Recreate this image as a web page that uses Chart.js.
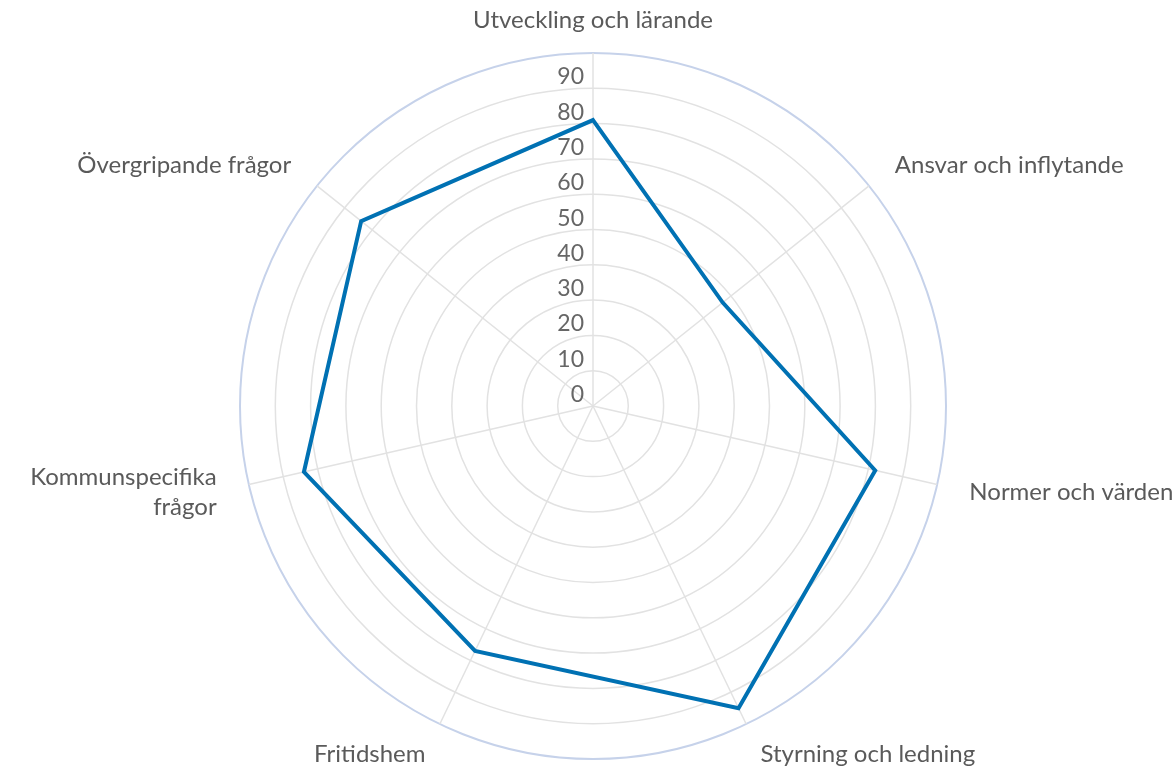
<!DOCTYPE html>
<html lang="sv">
  <head>
    <meta charset="UTF-8" />
    <script src="https://cdn.jsdelivr.net/npm/chart.js@4.4.1/dist/chart.umd.min.js"></script>
    <style>
      html, body { margin: 0; padding: 0; background: #fff; }
      #wrap { width: 1175px; height: 768px; }
    </style>
    <title>Radar</title>
  </head>
  <body>
    <div id="wrap"><canvas id="radar"></canvas></div>

    <script>
      // categories and values
      const categories = [
        'Utveckling och lärande',
        'Ansvar och inflytande',
        'Normer och värden',
        'Styrning och ledning',
        'Fritidshem',
        ['Kommunspecifika', 'frågor'],
        'Övergripande frågor'
      ];
      const values = [81, 47, 82, 95, 77, 84, 84];
      const tickLabels = [0, 10, 20, 30, 40, 50, 60, 70, 80, 90];

      const fontFamily = 'Lato, "Open Sans", sans-serif';

      // tick numbers sit just above each ring, left of the top spoke,
      // category names are centred on their spoke just outside the outer ring
      const labelPlugin = {
        id: 'radarLabels',
        afterDraw(chart) {
          const scale = chart.scales.r;
          const ctx = chart.ctx;
          ctx.save();

          ctx.font = '23px ' + fontFamily;
          ctx.fillStyle = '#666';
          ctx.textAlign = 'right';
          ctx.textBaseline = 'alphabetic';
          tickLabels.forEach(function (v) {
            const p = scale.getPointPositionForValue(0, v);
            ctx.fillText(String(v), p.x - 9, p.y - 4);
          });

          ctx.font = '24px ' + fontFamily;
          ctx.fillStyle = '#5a5a5a';
          ctx.textBaseline = 'middle';
          const lineH = 30;
          categories.forEach(function (label, i) {
            const p = scale.getPointPosition(i, scale.drawingArea + 33);
            const deg = Math.round(scale.getIndexAngle(i) * 180 / Math.PI) % 360;
            ctx.textAlign = deg === 0 || deg === 180 ? 'center' : (deg < 180 ? 'left' : 'right');
            const lines = Array.isArray(label) ? label : [label];
            const y0 = p.y - (lines.length - 1) * lineH / 2;
            lines.forEach(function (t, k) {
              ctx.fillText(t, p.x, y0 + k * lineH);
            });
          });
          ctx.restore();
        }
      };

      const ctx = document.getElementById('radar').getContext('2d');
      const chart = new Chart(ctx, {
        type: 'radar',
        data: {
          labels: categories,
          datasets: [{
            data: values,
            borderColor: '#0071b3',
            borderWidth: 4,
            fill: false,
            pointRadius: 0,
            tension: 0
          }]
        },
        options: {
          responsive: true,
          maintainAspectRatio: false,
          animation: false,
          layout: { padding: { top: 53, bottom: 9, left: 11, right: 0 } },
          plugins: {
            legend: { display: false },
            tooltip: { enabled: false }
          },
          scales: {
            r: {
              min: 0,
              max: 100,
              ticks: { stepSize: 10, display: false },
              grid: {
                circular: true,
                lineWidth: function (c) {
                  return c.tick && c.tick.value === 100 ? 2 : 1.5;
                },
                color: function (c) {
                  return c.tick && c.tick.value === 100 ? '#c6d2ea' : '#e2e2e2';
                }
              },
              angleLines: { color: '#e2e2e2', lineWidth: 1.5 },
              pointLabels: { display: false }
            }
          }
        },
        plugins: [labelPlugin]
      });
    </script>
  </body>
</html>
